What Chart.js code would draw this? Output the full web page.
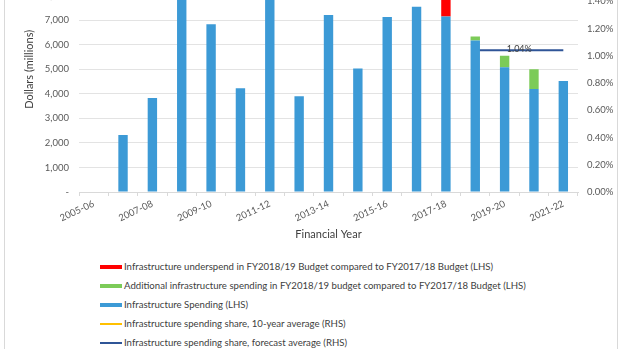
<!DOCTYPE html>
<html>
<head>
<meta charset="utf-8">
<script src="https://cdn.jsdelivr.net/npm/chart.js@4"></script>
<style>
  html, body { margin: 0; padding: 0; background: #fff; overflow: hidden; }
  body { width: 620px; height: 349px; position: relative; font-family: Lato, "Open Sans", sans-serif; }
  .frame { position: absolute; left: 4px; top: 0; width: 614px; height: 349px; border-left: 1px solid #d9d9d9; border-right: 1px solid #d9d9d9; box-sizing: border-box; }
  .plot { position: absolute; left: 5px; top: -69px; width: 612px; height: 314px; }
  #legend { position: absolute; left: 100px; top: 257px; list-style: none; margin: 0; padding: 0; }
  #legend li { height: 19px; display: flex; align-items: center; font-size: 9.6px; color: #404040; white-space: nowrap; }
  #legend .swatch { width: 22px; margin-right: 2px; }
</style>
</head>
<body>
<div class="frame"></div>
<div class="plot"><canvas id="infra"></canvas></div>
<ul id="legend"></ul>
<script>
const years = ['2005-06', '2006-07', '2007-08', '2008-09', '2009-10', '2010-11', '2011-12', '2012-13', '2013-14',
  '2014-15', '2015-16', '2016-17', '2017-18', '2018-19', '2019-20', '2020-21', '2021-22'];

// $ millions
const spending = [null, 2320, 3830, 8600, 6840, 4230, 9000, 3900, 7220, 5030, 7130, 7550, 7150, 6180, 5090, 4200, 4520];
const additional = [null, null, null, null, null, null, null, null, null, null, null, null, null, 160, 460, 800, null];
const underspend = [null, null, null, null, null, null, null, null, null, null, null, null, 1000, null, null, null, null];

// share, %
const tenYearAvg = [];
const forecastAvg = [null, null, null, null, null, null, null, null, null, null, null, null, null, 1.04, 1.04, 1.04, 1.04];

const legendOrder = [2, 1, 0, 3, 4];

const axisFont = { family: 'Lato, "Open Sans", sans-serif', size: 9.5 };
const titleFont = { family: 'Lato, "Open Sans", sans-serif', size: 11 };

// writes the forecast average value over the middle of its line
const shareLabel = {
  id: 'shareLabel',
  afterDatasetsDraw(chart) {
    const meta = chart.getDatasetMeta(4);
    const pts = meta.data.filter((p, i) => forecastAvg[i] != null);
    if (!pts.length) return;
    const first = pts[0], last = pts[pts.length - 1];
    const val = forecastAvg.find(v => v != null);
    const ctx = chart.ctx;
    ctx.save();
    ctx.font = '9px Lato, "Open Sans", sans-serif';
    ctx.fillStyle = '#404040';
    ctx.textAlign = 'center';
    ctx.textBaseline = 'middle';
    ctx.fillText(val.toFixed(2) + '%', (first.x + last.x) / 2, first.y - 1);
    ctx.restore();
  }
};

const ctx = document.getElementById('infra').getContext('2d');
const chart = new Chart(ctx, {
  type: 'bar',
  data: {
    labels: years,
    datasets: [
      {
        label: 'Infrastructure Spending (LHS)',
        data: spending,
        backgroundColor: '#3C9AD6',
        yAxisID: 'y',
        categoryPercentage: 0.8,
        barPercentage: 0.4
      },
      {
        label: 'Additional infrastructure spending in FY2018/19 budget compared to FY2017/18 Budget (LHS)',
        data: additional,
        backgroundColor: '#7CCB58',
        yAxisID: 'y',
        categoryPercentage: 0.8,
        barPercentage: 0.4
      },
      {
        label: 'Infrastructure underspend in FY2018/19 Budget compared to FY2017/18 Budget (LHS)',
        data: underspend,
        backgroundColor: '#FF0000',
        yAxisID: 'y',
        categoryPercentage: 0.8,
        barPercentage: 0.4
      },
      {
        type: 'line',
        label: 'Infrastructure spending share, 10-year average (RHS)',
        data: tenYearAvg,
        borderColor: '#FFC000',
        backgroundColor: '#FFC000',
        borderWidth: 2,
        pointRadius: 0,
        yAxisID: 'y1'
      },
      {
        type: 'line',
        label: 'Infrastructure spending share, forecast average (RHS)',
        data: forecastAvg,
        borderColor: '#2F5597',
        backgroundColor: '#2F5597',
        borderWidth: 2,
        pointRadius: 0,
        yAxisID: 'y1'
      }
    ]
  },
  options: {
    responsive: true,
    maintainAspectRatio: false,
    animation: false,
    layout: { padding: { top: 3, left: 0, right: 0, bottom: 0 } },
    plugins: {
      legend: { display: false },
      tooltip: { enabled: false }
    },
    scales: {
      x: {
        stacked: true,
        grid: { offset: true, drawOnChartArea: false, tickLength: 4, color: '#d9d9d9' },
        border: { color: '#d9d9d9' },
        ticks: {
          autoSkip: false,
          minRotation: 25,
          maxRotation: 25,
          color: '#595959',
          font: axisFont,
          padding: 2,
          callback: (v, i) => (i % 2 === 0 ? years[i] : '')
        },
        title: { display: true, text: 'Financial Year', color: '#404040', font: titleFont, padding: { top: 0, bottom: 4 } },
        afterFit(scale) { scale.height = 53; }
      },
      y: {
        stacked: true,
        min: 0,
        max: 10000,
        grid: { color: '#e3e3e3', drawTicks: false },
        border: { display: false },
        ticks: {
          stepSize: 1000,
          color: '#595959',
          font: axisFont,
          padding: 10,
          callback: v => (v === 0 ? '-' : v.toLocaleString('en-US'))
        },
        title: { display: true, text: 'Dollars (millions)', color: '#404040', font: titleFont, padding: { top: 18, bottom: 0 } },
        afterFit(scale) { scale.width = 74; }
      },
      y1: {
        position: 'right',
        min: 0,
        max: 1.8,
        grid: { drawOnChartArea: false, drawTicks: false },
        border: { display: false },
        ticks: {
          stepSize: 0.2,
          color: '#595959',
          font: axisFont,
          padding: 9,
          callback: v => v.toFixed(2) + '%'
        },
        afterFit(scale) { scale.width = 39; }
      }
    }
  },
  plugins: [shareLabel]
});

// legend list under the chart
const legend = document.getElementById('legend');
legendOrder.forEach(i => {
  const ds = chart.data.datasets[i];
  const li = document.createElement('li');
  const sw = document.createElement('span');
  sw.className = 'swatch';
  sw.style.background = ds.type === 'line' ? ds.borderColor : ds.backgroundColor;
  sw.style.height = ds.type === 'line' ? '2px' : '4px';
  li.appendChild(sw);
  li.appendChild(document.createTextNode(ds.label));
  legend.appendChild(li);
});
</script>
</body>
</html>
